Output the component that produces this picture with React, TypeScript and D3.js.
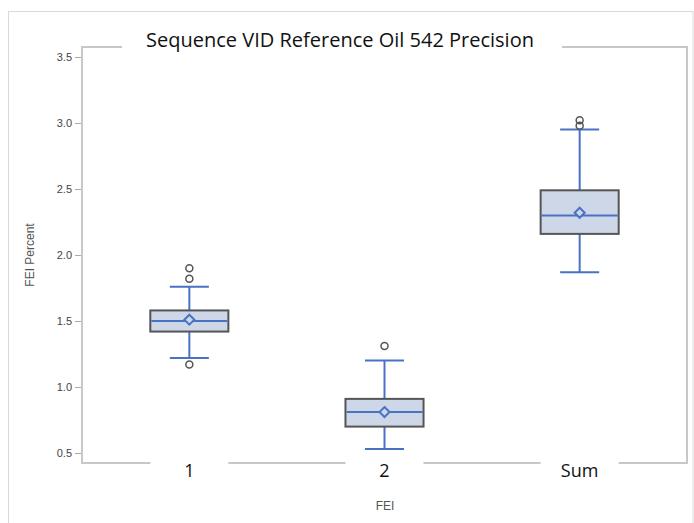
import { useEffect, useRef } from "react";
import * as d3 from "d3";

// box statistics
const categories = ["1", "2", "Sum"];
const whiskerLow = [1.22, 0.53, 1.87];
const q1 = [1.42, 0.70, 2.16];
const median = [1.50, 0.81, 2.30];
const mean = [1.51, 0.81, 2.32];
const q3 = [1.58, 0.91, 2.49];
const whiskerHigh = [1.76, 1.20, 2.95];
const outliers = [[1.17, 1.82, 1.90], [1.31], [2.98, 3.02]];
const yTicks = [0.5, 1.0, 1.5, 2.0, 2.5, 3.0, 3.5];

const title = "Sequence VID Reference Oil 542 Precision";

export default function App() {
  const ref = useRef<SVGSVGElement | null>(null);

  useEffect(() => {
    const W = 694, H = 523;
    const left = 82, right = 687, top = 47, bottom = 463;
    const svg = d3.select(ref.current);
    svg.selectAll("*").remove();

    const x = d3.scaleBand().domain(categories).range([left, right]).paddingOuter(0.05).paddingInner(0);
    const y = d3.scaleLinear().domain([0.5, 3.5]).range([453, 57]);
    const cx = (c: string) => (x(c) as number) + x.bandwidth() / 2;
    const boxW = x.bandwidth() * 0.4;
    const capW = x.bandwidth() * 0.2;

    const frameCol = "#c8c8c8";
    const blue = "#4a72c4";

    // outer frame
    svg.append("rect")
      .attr("x", 8.5).attr("y", 11.5)
      .attr("width", W - 9.5).attr("height", H)
      .attr("fill", "none").attr("stroke", "#d9d9d9").attr("stroke-width", 1);

    // plot frame (left and right sides)
    svg.append("line").attr("x1", left).attr("x2", left).attr("y1", top).attr("y2", bottom)
      .attr("stroke", frameCol).attr("stroke-width", 2);
    svg.append("line").attr("x1", right).attr("x2", right).attr("y1", top).attr("y2", bottom)
      .attr("stroke", frameCol).attr("stroke-width", 2);
    // top line with gap for title
    svg.append("line").attr("x1", left - 1).attr("x2", 122).attr("y1", top).attr("y2", top)
      .attr("stroke", frameCol).attr("stroke-width", 2);
    svg.append("line").attr("x1", 562).attr("x2", right + 1).attr("y1", top).attr("y2", top)
      .attr("stroke", frameCol).attr("stroke-width", 2);
    // bottom line with gaps for category labels
    const gap = 39;
    const pts = [left - 1, ...categories.flatMap(c => [cx(c) - gap, cx(c) + gap]), right + 1];
    for (let i = 0; i < pts.length; i += 2) {
      svg.append("line").attr("x1", pts[i]).attr("x2", pts[i + 1]).attr("y1", bottom).attr("y2", bottom)
        .attr("stroke", frameCol).attr("stroke-width", 2);
    }

    // y axis ticks
    const yAxis = svg.append("g").attr("transform", `translate(${left - 1},0)`)
      .call(d3.axisLeft(y).tickValues(yTicks).tickFormat(d3.format(".1f")).tickSize(6).tickPadding(3));
    yAxis.select(".domain").remove();
    yAxis.selectAll(".tick line").attr("stroke", "#aaa");
    yAxis.selectAll("text").attr("fill", "#444").style("font-family", "Arial, 'Liberation Sans', sans-serif").style("font-size", "11px");

    // title
    svg.append("text")
      .attr("x", 340).attr("y", 47)
      .attr("text-anchor", "middle")
      .style("font-family", "'Open Sans', sans-serif")
      .style("font-size", "20px")
      .attr("fill", "#111")
      .text(title);

    // category labels
    svg.selectAll("text.cat").data(categories).enter().append("text")
      .attr("class", "cat")
      .attr("x", d => cx(d)).attr("y", 477)
      .attr("text-anchor", "middle")
      .style("font-family", "'Open Sans', sans-serif")
      .style("font-size", "18px")
      .attr("fill", "#111")
      .text(d => d);

    // axis titles
    svg.append("text")
      .attr("x", 385).attr("y", 510)
      .attr("text-anchor", "middle")
      .style("font-family", "Arial, 'Liberation Sans', sans-serif")
      .style("font-size", "12px")
      .attr("fill", "#555")
      .text("FEI");
    svg.append("text")
      .attr("transform", `translate(34,${(top + bottom) / 2}) rotate(-90)`)
      .attr("text-anchor", "middle")
      .style("font-family", "Arial, 'Liberation Sans', sans-serif")
      .style("font-size", "12px")
      .attr("fill", "#555")
      .text("FEI Percent");

    // boxes
    const g = svg.append("g");
    categories.forEach((c, i) => {
      const m = cx(c);
      // whiskers
      g.append("line").attr("x1", m).attr("x2", m).attr("y1", y(q3[i])).attr("y2", y(whiskerHigh[i]))
        .attr("stroke", blue).attr("stroke-width", 2);
      g.append("line").attr("x1", m).attr("x2", m).attr("y1", y(q1[i])).attr("y2", y(whiskerLow[i]))
        .attr("stroke", blue).attr("stroke-width", 2);
      g.append("line").attr("x1", m - capW / 2).attr("x2", m + capW / 2).attr("y1", y(whiskerHigh[i])).attr("y2", y(whiskerHigh[i]))
        .attr("stroke", blue).attr("stroke-width", 2);
      g.append("line").attr("x1", m - capW / 2).attr("x2", m + capW / 2).attr("y1", y(whiskerLow[i])).attr("y2", y(whiskerLow[i]))
        .attr("stroke", blue).attr("stroke-width", 2);
      // box
      g.append("rect")
        .attr("x", m - boxW / 2).attr("y", y(q3[i]))
        .attr("width", boxW).attr("height", y(q1[i]) - y(q3[i]))
        .attr("fill", "#cdd7e8").attr("stroke", "#555").attr("stroke-width", 2);
      // median
      g.append("line").attr("x1", m - boxW / 2 + 1).attr("x2", m + boxW / 2 - 1).attr("y1", y(median[i])).attr("y2", y(median[i]))
        .attr("stroke", blue).attr("stroke-width", 2);
      // mean diamond
      const r = 5, my = y(mean[i]);
      g.append("path")
        .attr("d", `M${m},${my - r}L${m + r},${my}L${m},${my + r}L${m - r},${my}Z`)
        .attr("fill", "#cdd7e8").attr("stroke", blue).attr("stroke-width", 2);
      // outliers
      outliers[i].forEach(v => {
        g.append("circle").attr("cx", m).attr("cy", y(v)).attr("r", 3.5)
          .attr("fill", "none").attr("stroke", "#555").attr("stroke-width", 1.5);
      });
    });
  }, []);

  return (
    <svg ref={ref} width={694} height={523} style={{ display: "block", position: "absolute", left: 0, top: 0, background: "#fff" }} />
  );
}
